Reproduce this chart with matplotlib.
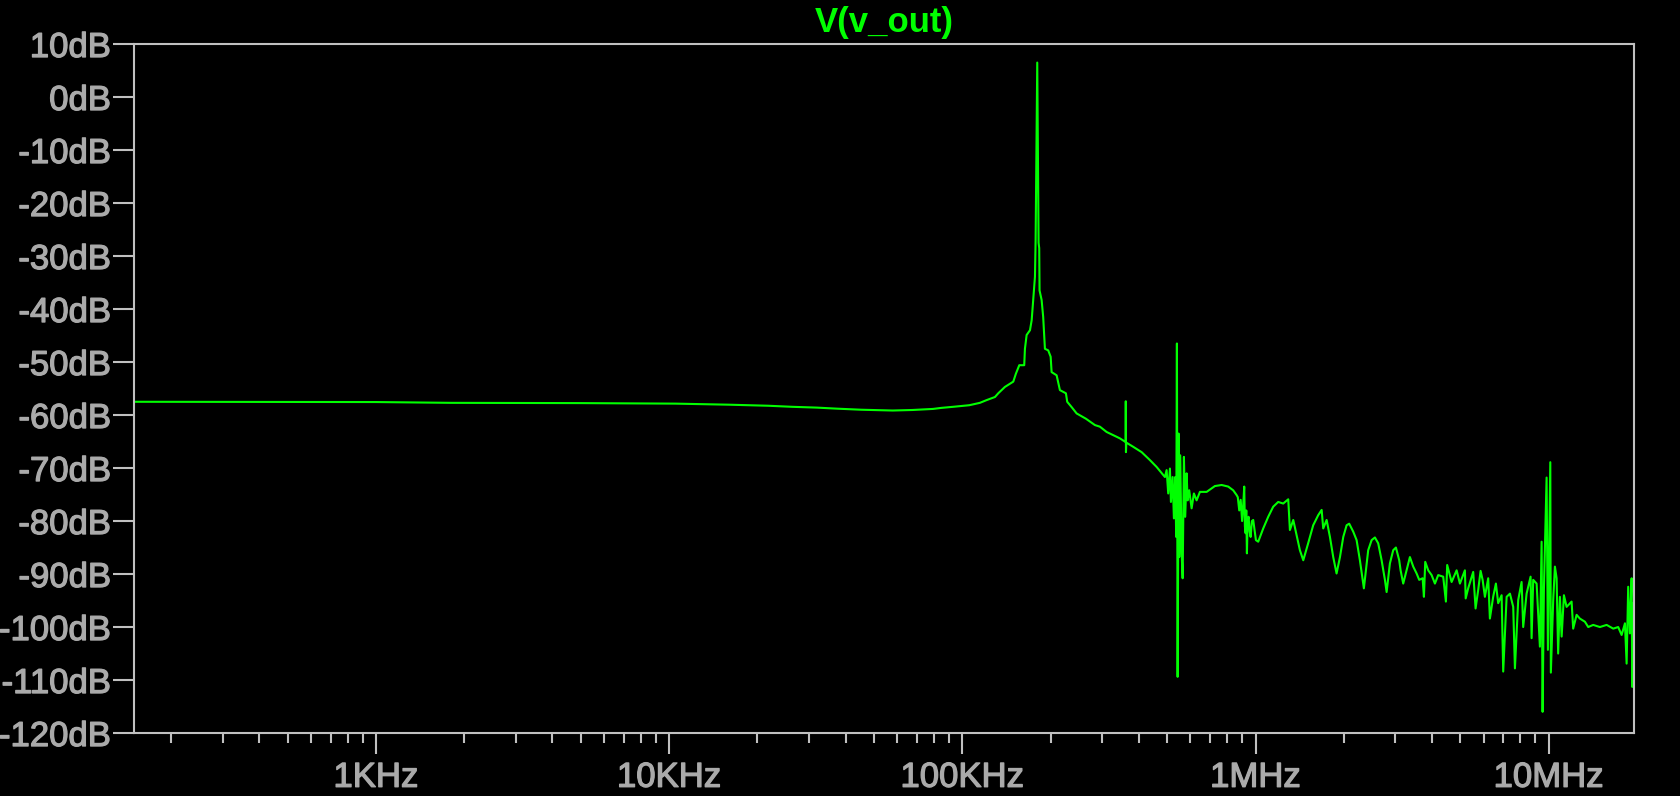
import numpy as np
import matplotlib
matplotlib.use("Agg")
from matplotlib import pyplot as plt
from matplotlib import patheffects as pe
from matplotlib.ticker import LogLocator, NullFormatter

# Данные (частота в Гц, уровень в дБ)
# 1. Плоский участок
base_f = [150, 1000, 1800, 5000, 10500, 16000, 21800, 26300, 31900, 37400,
          45200, 57900, 67500, 79400, 84900, 93000, 105600, 114800]
base_db = [-57.5, -57.55, -57.7, -57.75, -57.85, -58.05, -58.25, -58.45, -58.6, -58.8,
           -59.0, -59.15, -59.05, -58.85, -58.65, -58.45, -58.15, -57.7]

# 2. Резонанс около 180 кГц и спад
res_f = [120800, 129200, 132600, 139700, 149200, 152300, 156400, 162600, 163500,
         165700, 170100, 172400, 174500, 176900, 177800, 180100, 182000, 182900,
         183400, 186400, 188700, 191300, 196300, 200100, 201600, 209700, 215200,
         225600, 227900, 235900, 245400, 264000, 283400, 294600, 310600, 344600,
         360500, 361000, 361500, 362500, 382800, 408800, 436300, 460000, 490900]
res_db = [-57.2, -56.6, -55.9, -54.7, -53.7, -52.2, -50.6, -50.6, -47.5,
          -44.9, -44.0, -42.1, -38.3, -33.9, -27.0, 6.5, -27.5, -28.5,
          -36.5, -38.3, -41.5, -47.5, -47.8, -49.0, -51.9, -52.5, -55.3,
          -55.9, -57.5, -58.5, -59.7, -60.7, -61.9, -62.2, -63.2, -64.4,
          -65.1, -57.4, -67.0, -65.2, -66.0, -67.0, -68.5, -69.8, -71.7]

# 3. Звон 0.5 ... 1.2 МГц
ring_f = [497500, 503800, 510600, 514600, 521500, 526800, 532200, 536400, 539400,
          542400, 546600, 549300, 553600, 559800, 564200, 569900, 575700, 582100,
          586700, 594100, 605400, 616400, 629600, 646200, 681200, 727000, 766300,
          807000, 839200, 861900, 870000, 880000, 890000, 900000, 908000, 915200,
          920000, 925200, 930000, 934700, 940000, 947300, 955000, 962200, 972000,
          982100, 1003100, 1021400, 1062400, 1104900, 1149000, 1195000]
ring_db = [-70.4, -74.8, -70.1, -76.4, -71.7, -79.5, -71.7, -83.0, -46.5,
           -109.4, -63.5, -86.8, -67.6, -86.1, -90.8, -67.9, -79.2, -71.0,
           -76.1, -74.2, -77.6, -74.8, -76.1, -74.5, -74.5, -73.4, -73.2,
           -73.5, -74.2, -75.1, -75.5, -78.0, -76.0, -80.0, -77.0, -73.5,
           -81.0, -82.3, -78.0, -86.1, -80.0, -79.2, -82.0, -83.0, -80.0,
           -79.8, -83.6, -83.9, -81.4, -79.2, -77.3, -76.4]

# 4. Хвост 1.2 ... 20 МГц
tail_f = [1.243e6, 1.293e6, 1.310e6, 1.345e6, 1.381e6, 1.417e6, 1.455e6, 1.512e6,
          1.573e6, 1.636e6, 1.681e6, 1.702e6, 1.748e6, 1.794e6, 1.841e6, 1.890e6,
          1.941e6, 1.992e6, 2.045e6, 2.087e6, 2.154e6, 2.212e6, 2.270e6, 2.342e6,
          2.423e6, 2.489e6, 2.554e6, 2.621e6, 2.692e6, 2.763e6, 2.800e6, 2.873e6,
          2.949e6, 3.012e6, 3.091e6, 3.125e6, 3.190e6, 3.276e6, 3.362e6, 3.451e6,
          3.544e6, 3.617e6, 3.715e6, 3.753e6, 3.792e6, 3.882e6, 3.987e6, 4.092e6,
          4.199e6, 4.367e6, 4.460e6, 4.506e6, 4.665e6, 4.852e6, 4.979e6, 5.178e6,
          5.210e6, 5.313e6, 5.527e6, 5.631e6, 5.748e6, 5.857e6, 5.951e6, 6.059e6,
          6.218e6, 6.301e6, 6.466e6, 6.605e6, 6.726e6, 6.909e6, 6.996e6, 7.186e6,
          7.375e6, 7.568e6, 7.670e6, 7.870e6, 8.083e6, 8.185e6, 8.406e6, 8.674e6,
          8.743e6, 8.855e6, 9.094e6, 9.333e6, 9.458e6, 9.532e6, 9.630e6, 9.759e6,
          9.836e6, 9.938e6, 10.05e6, 10.126e6, 10.17e6, 10.36e6, 10.50e6, 10.64e6,
          10.77e6, 10.92e6, 11.07e6, 11.27e6, 11.51e6, 11.97e6, 12.12e6, 12.45e6,
          12.77e6, 13.29e6, 13.64e6, 14.18e6, 14.95e6, 15.76e6, 16.60e6, 17.26e6,
          17.73e6, 18.20e6, 18.44e6, 18.67e6, 18.92e6, 19.18e6, 19.27e6, 19.42e6]
tail_db = [-76.7, -75.9, -81.7, -79.8, -82.7, -85.5, -87.4, -84.2,
           -80.8, -78.9, -77.9, -81.4, -79.8, -83.0, -86.8, -89.9,
           -86.8, -83.0, -80.8, -80.5, -82.0, -83.6, -87.4, -92.7,
           -85.5, -83.6, -83.1, -84.2, -87.4, -91.1, -93.4, -88.0,
           -85.5, -85.0, -87.4, -89.3, -91.8, -89.3, -86.8, -88.6,
           -89.9, -91.1, -90.8, -94.3, -87.7, -89.3, -90.2, -91.8,
           -90.2, -90.5, -95.2, -88.3, -91.5, -89.3, -91.8, -89.3,
           -94.6, -92.7, -89.6, -96.5, -93.0, -89.4, -91.1, -94.3,
           -90.8, -98.4, -94.3, -91.8, -95.5, -94.0, -108.4, -94.3,
           -93.7, -96.2, -107.8, -94.9, -91.5, -100.0, -93.7, -90.5,
           -102.1, -91.1, -91.8, -103.7, -83.9, -116.0, -93.0, -79.2,
           -71.8, -104.3, -83.3, -68.9, -108.6, -94.9, -88.6, -90.8,
           -105.0, -94.3, -101.8, -94.0, -96.2, -95.2, -100.3, -97.7,
           -98.4, -99.0, -100.0, -99.6, -100.0, -99.6, -100.3, -100.0,
           -101.5, -99.3, -106.9, -92.4, -101.2, -90.8, -111.3, -95.5]

x_major = [1e3, 1e4, 1e5, 1e6, 1e7]
x_labels = ["1KHz", "10KHz", "100KHz", "1MHz", "10MHz"]
y_ticks = list(range(-120, 11, 10))

freq = np.array(base_f + res_f + ring_f + tail_f, dtype=float)
mag = np.array(base_db + res_db + ring_db + tail_db, dtype=float)

plt.rcParams['font.family'] = ['Liberation Sans', 'DejaVu Sans']

fig = plt.figure(figsize=(16.81, 7.96), dpi=100, facecolor='black')
ax = fig.add_axes([0.0797, 0.0791, 0.8923, 0.8656], facecolor='black')

ax.plot(freq, mag, color='#00ff00', lw=1.5)

ax.set_xscale('log')
ax.set_xlim(149.5, 1.953e7)
ax.set_ylim(-120, 10)

ax.set_xticks(x_major)
ax.set_xticklabels(x_labels)
ax.xaxis.set_minor_locator(LogLocator(base=10, subs=range(2, 10), numticks=50))
ax.xaxis.set_minor_formatter(NullFormatter())
ax.set_yticks(y_ticks)
ax.set_yticklabels([f"{v}dB" for v in y_ticks])

# Оформление в стиле LTspice
for s in ax.spines.values():
    s.set_color('#c0c0c0')
    s.set_linewidth(1.5)
ax.tick_params(which='major', direction='out', length=15, width=1.5,
               color='#c0c0c0', labelcolor='#aaaaaa', labelsize=25)
ax.tick_params(axis='x', which='minor', direction='out', length=7.5, width=1.5,
               color='#c0c0c0')
ax.tick_params(axis='y', pad=1.5)
ax.tick_params(axis='x', pad=5)

# чуть толще штрих у подписей (как у ClearType)
for lab in ax.get_xticklabels() + ax.get_yticklabels():
    lab.set_path_effects([pe.withStroke(linewidth=0.9, foreground='#aaaaaa')])

# Заголовок: имя трассы над графиком
ax.text(0.5, 1.0174, "V(v_out)", transform=ax.transAxes, ha='center', va='baseline',
        color='#00ff00', fontsize=25, fontweight='bold')

fig.savefig('out.png', dpi=100, facecolor='black')
